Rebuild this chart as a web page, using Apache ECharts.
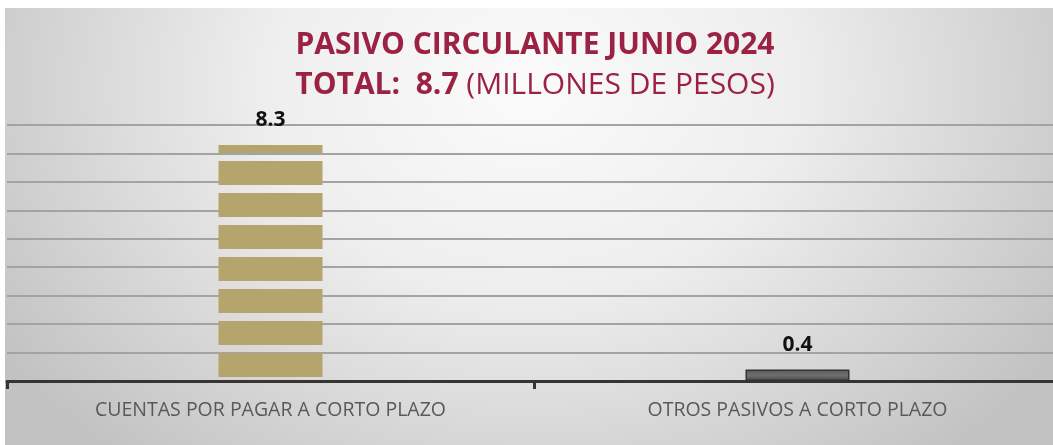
<!DOCTYPE html>
<html>
<head>
<meta charset="utf-8">
<script src="https://cdn.jsdelivr.net/npm/echarts@6/dist/echarts.min.js"></script>
<style>
  html, body { margin: 0; padding: 0; background: #ffffff; }
  #wrap {
    position: absolute; left: 5px; top: 8px; width: 1048px; height: 437px; overflow: hidden;
    background: radial-gradient(ellipse 60% 112% at 50% 18%, #fbfbfb 0%, #eeeeee 42%, #d4d4d4 76%, #c2c2c2 100%);
  }
  #chart { width: 1060px; height: 437px; }
</style>
</head>
<body>
<div id="wrap"><div id="chart"></div></div>
<script>
  const categories = ["CUENTAS POR PAGAR A CORTO PLAZO", "OTROS PASIVOS A CORTO PLAZO"]
  const values = [8.3, 0.4]
  const total = 8.7
  const yMax = 9

  const myChart = echarts.init(document.getElementById("chart"), null, { renderer: "canvas" })

  const labelStyle = {
    show: true,
    position: "top",
    distance: 14,
    color: "#111111",
    fontFamily: "Open Sans",
    fontWeight: "bold",
    fontSize: 21,
  }

  const option = {
    backgroundColor: "transparent",
    animation: false,
    title: {
      left: "center",
      top: 17,
      itemGap: 10,
      text: "PASIVO CIRCULANTE JUNIO 2024",
      textStyle: {
        fontFamily: "Open Sans",
        fontSize: 30,
        fontWeight: "bold",
        color: "#9b2243",
      },
      subtext: "{b|TOTAL:  " + total + " }{n|(MILLONES DE PESOS)}",
      subtextStyle: {
        rich: {
          b: { fontFamily: "Open Sans", fontSize: 30, fontWeight: "bold", color: "#9b2243" },
          n: { fontFamily: "Open Sans", fontSize: 30, color: "#9b2243" },
        },
      },
    },
    grid: {
      left: 2,
      right: 4,
      top: 117,
      bottom: 64,
      containLabel: false,
    },
    xAxis: {
      type: "category",
      data: categories,
      axisLine: { lineStyle: { color: "#353535", width: 3 } },
      axisTick: { show: true, length: 8, lineStyle: { color: "#353535", width: 3 } },
      axisLabel: {
        color: "#595959",
        fontFamily: "Open Sans",
        fontSize: 19.5,
        margin: 19,
      },
    },
    yAxis: {
      type: "value",
      min: 0,
      max: yMax,
      interval: 1,
      axisLabel: { show: false },
      axisLine: { show: false },
      axisTick: { show: false },
      splitLine: { lineStyle: { color: "#a3a3a3", width: 2 } },
    },
    series: [
      {
        // plain bars: gray bar for the second item, transparent carrier for the first label
        type: "bar",
        barWidth: 104,
        label: labelStyle,
        data: [
          { value: values[0], itemStyle: { color: "rgba(0,0,0,0)" } },
          {
            value: values[1],
            itemStyle: {
              color: new echarts.graphic.LinearGradient(0, 0, 0, 1, [
                { offset: 0, color: "#5a5a5a" },
                { offset: 0.5, color: "#6e6e6e" },
                { offset: 1, color: "#4a4a4a" },
              ]),
              borderColor: "#333333",
              borderWidth: 1.5,
            },
          },
        ],
        z: 2,
      },
      {
        // striped gold bar
        type: "pictorialBar",
        symbol: "rect",
        symbolSize: [104, 24],
        symbolRepeat: true,
        symbolMargin: "4!",
        symbolClip: true,
        symbolPosition: "start",
        itemStyle: { color: "#b4a56c" },
        data: [values[0], "-"],
        z: 3,
      },
    ],
  }
  myChart.setOption(option)
</script>
</body>
</html>
